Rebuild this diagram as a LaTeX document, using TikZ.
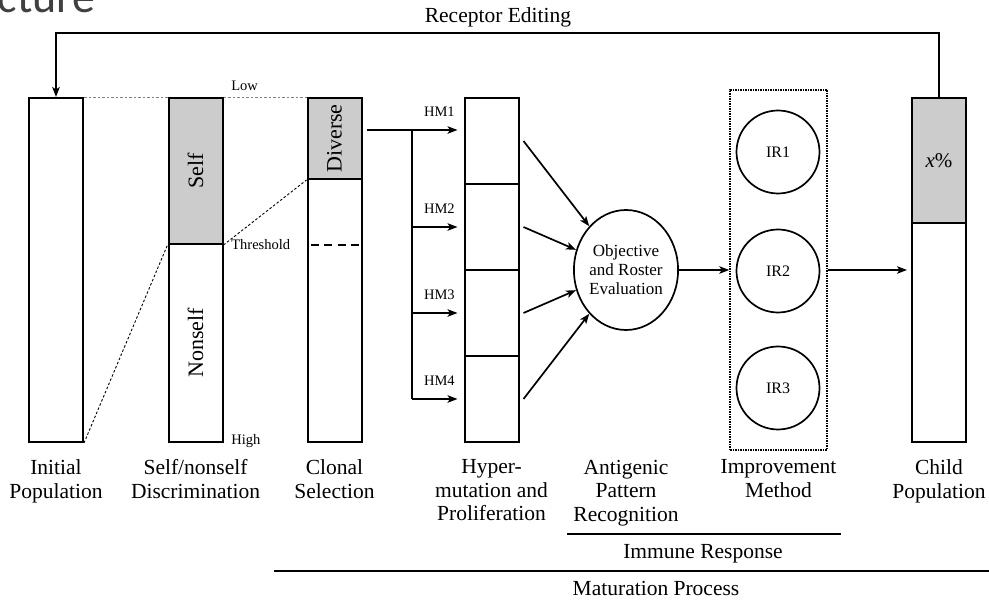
\documentclass[tikz,border=0pt]{standalone}
\usepackage{fontspec}
\setmainfont{Liberation Serif}
\newfontfamily\slidefont{Carlito}
\usetikzlibrary{arrows.meta,shapes.geometric,positioning}

\definecolor{selfgray}{RGB}{204,204,204}

\tikzset{%
        every bar/.style={
            draw,
            line width=2pt,
            minimum width=54pt,
            inner sep=0pt
        },
        bar gray/.style={fill=selfgray},
        bar label/.style={
            font=\fontsize{22}{22}\selectfont,
            rotate=90,
            inner sep=0pt
        },
        small label/.style={font=\fontsize{14.5}{16}\selectfont, inner sep=0pt},
        stage label/.style={
            font=\fontsize{21.5}{23.5}\selectfont,
            align=center,
            anchor=north,
            inner sep=0pt
        },
        link dots/.style={line width=0.9pt, dash pattern=on 2.5pt off 2pt},
        ir node/.style={
            circle,
            draw,
            line width=1.7pt,
            minimum size=83pt,
            inner sep=0pt,
            font=\fontsize{16}{16}\selectfont
        },
    }

\begin{document}
\begin{tikzpicture}[x=1pt, y=-1pt, >={Stealth[length=10pt,width=7.5pt,inset=2.5pt]}, line width=1.7pt]

        \clip (0,0) rectangle (989,601);

        \node [anchor=base west, inner sep=0pt, text=black!75, font=\slidefont\fontsize{46}{46}\selectfont] (slide-title) at (-3,13) {cture};

        % population bars
        \node [every bar, minimum height=344pt] (init) at (56,270) {};
        \node [every bar, bar gray, minimum height=146pt] (self) at (195.5,171) {};
        \node [every bar, minimum height=198pt] (nonself) at (195.5,343) {};
        \node [every bar, bar gray, minimum height=81pt] (diverse) at (334.5,138.5) {};
        \node [every bar, minimum height=263pt] (clonal) at (334.5,310.5) {};
        \foreach \y [count=\i] in {141,227,313,399}
        \node [every bar, minimum height=86pt] (hyper-\i) at (491.5,\y) {};
        \node [every bar, bar gray, minimum height=125pt] (child-top) at (939,160.5) {};
        \node [every bar, minimum height=219pt] (child) at (939,332.5) {};

        \node [bar label] (self-text) at (self) {Self};
        \node [bar label] (nonself-text) at (nonself) {Nonself};
        \node [bar label] (diverse-text) at (diverse) {Diverse};
        \node [font=\fontsize{21}{21}\selectfont] (child-text) at (child-top) {\textit{x}\%};

        \node [small label, anchor=base west] (low) at ([xshift=7pt,yshift=6pt]self.north east) {Low};
        \node [small label, anchor=west] (threshold) at ([xshift=7pt]self.south east) {Threshold};
        \node [small label, anchor=west] (high) at ([xshift=7pt,yshift=2pt]nonself.south east) {High};

        \draw [link dots, gray] (init.north east) -- (self.north west);
        \draw [link dots, gray] (self.north east) -- (diverse.north west);
        \draw [link dots] (init.south east) -- (self.south west);
        \draw [link dots] (self.south east) -- (diverse.south west);

        \coordinate (thr-l) at (clonal.west |- self.south);
        \coordinate (thr-r) at (clonal.east |- self.south);
        \draw [line width=1.7pt, dash pattern=on 8pt off 5.5pt] ([xshift=4pt]thr-l) -- ([xshift=-4pt]thr-r);

        % hypermutation fork
        \coordinate (fork) at (412,130);
        \coordinate (fork-end) at (hyper-1.west |- fork);
        \draw [->, shorten >=6pt] ([xshift=4pt]diverse.east |- fork) -- (fork-end);
        \draw (fork) -- (fork |- hyper-4);
        \foreach \i in {2,3,4}
            \draw [->, shorten >=6pt] (fork |- hyper-\i) -- (hyper-\i.west);
        \node [small label, anchor=base east] (hm-1) at ([xshift=-8pt,yshift=13pt]fork-end) {HM1};
        \foreach \i in {2,3,4}
            \node [small label, anchor=base east] (hm-\i) at ([xshift=-8pt,yshift=13pt]hyper-\i.west) {HM\i};

        % evaluation
        \node [ellipse, draw, line width=1.7pt, minimum width=94pt, minimum height=120pt, inner sep=0pt,
            align=center, font=\fontsize{17}{19}\selectfont] (eval) at (626,270) {Objective\\and Roster\\Evaluation};
        \foreach \i/\a in {1/130,2/158,3/202,4/230}
            \draw [->] ([xshift=4pt]hyper-\i.east) -- (eval.\a);

        % improvement
        \node [draw, densely dotted, line width=1.5pt, minimum width=97pt, minimum height=360pt, inner sep=0pt] (improve) at (778.5,270) {};
        \foreach \y [count=\i] in {152,271,388}
            \node [ir node] (ir-\i) at (778,\y) {IR\i};
        \draw [->] (eval) -- (improve);
        \draw [->, shorten >=4pt] (improve.east) -- (improve.east -| child.west);

        % receptor editing
        \coordinate (feedback) at (498,33);
        \draw [->] (child-top.north) |- (feedback) -| (init.north);
        \node [anchor=base, inner sep=0pt, font=\fontsize{21.5}{21.5}\selectfont] (receptor) at ([yshift=10pt]feedback) {Receptor Editing};

        \foreach \b/\t in {init/{Initial\\Population}, self/{Self/nonself\\Discrimination}, diverse/{Clonal\\Selection},
            hyper-1/{Hyper-\\mutation and\\Proliferation}, eval/{Antigenic\\Pattern\\Recognition},
            improve/{Improvement\\Method}, child/{Child\\Population}}
        \node [stage label] (\b-caption) at (\b |- 0,459) {\t};

        % phases
        \coordinate (immune-a) at (567,534);
        \coordinate (immune-b) at (841,534);
        \draw (immune-a) -- (immune-b);
        \node [anchor=base, inner sep=0pt, font=\fontsize{21.5}{21.5}\selectfont] (immune) at (703,559) {Immune Response};
        \coordinate (maturation-a) at (274,571);
        \coordinate (maturation-b) at (989,571);
        \draw (maturation-a) -- (maturation-b);
        \node [anchor=base, inner sep=0pt, font=\fontsize{21.5}{21.5}\selectfont] (maturation) at (656,596) {Maturation Process};
    \end{tikzpicture}
\end{document}
